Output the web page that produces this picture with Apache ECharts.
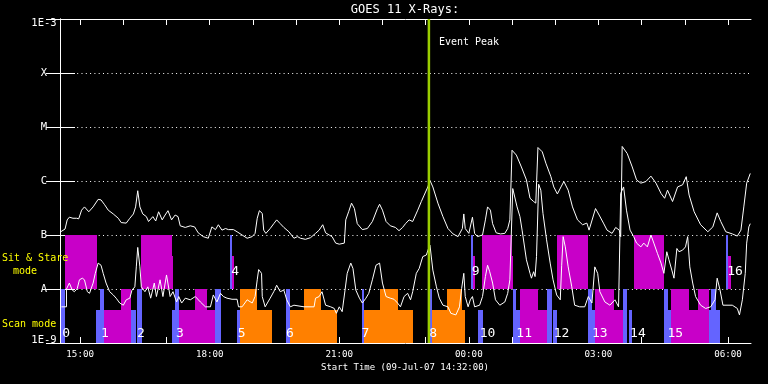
<!DOCTYPE html>
<html><head><meta charset="utf-8">
<script src="https://cdn.jsdelivr.net/npm/echarts@6/dist/echarts.min.js"></script>
<style>html,body{margin:0;padding:0;background:#000}#c{width:768px;height:384px}</style>
</head><body><div id="c"></div>
<script>
// ---- data ----
const START = '14:32';
const SPAN_MIN = 960;                       // minutes shown after START
const titleText = 'GOES 11 X-Rays:';
const xTitleText = 'Start Time (09-Jul-07 14:32:00)';
const xTickTimes = ['15:00','16:00','17:00','18:00','19:00','20:00','21:00','22:00','23:00','00:00','01:00','02:00','03:00','04:00','05:00','06:00'];
const xLabelTimes = ['15:00','18:00','21:00','00:00','03:00','06:00'];
const yTickExponents = [-9,-8,-7,-6,-5,-4,-3];
const yTickLabels = ['1E-9','A','B','C','M','X','1E-3'];
const eventPeakMin = 512.5;                  // minutes after START
const eventPeakLabel = 'Event Peak';

// [minutes after START, log10 flux]
const longChannel = [
[1,-6.94],[7,-6.89],[10,-6.72],[13,-6.67],[18,-6.69],[23,-6.69],[26,-6.70],[30,-6.54],[34,-6.48],[40,-6.57],[46,-6.48],[53,-6.34],[57,-6.35],[62,-6.44],[67,-6.54],[74,-6.61],[81,-6.69],[85,-6.77],[92,-6.78],[97,-6.69],[102,-6.61],[105,-6.48],[108,-6.18],[111,-6.48],[115,-6.61],[120,-6.66],[123,-6.75],[129,-6.66],[133,-6.74],[137,-6.57],[142,-6.72],[146,-6.63],[150,-6.55],[155,-6.72],[160,-6.63],[164,-6.66],[167,-6.83],[174,-6.86],[181,-6.83],[187,-6.85],[192,-6.96],[199,-7.03],[206,-7.06],[211,-6.85],[216,-6.90],[220,-6.81],[225,-6.91],[230,-6.88],[234,-6.90],[241,-6.90],[246,-6.94],[253,-7.00],[260,-7.06],[267,-7.03],[271,-6.97],[274,-6.69],[277,-6.55],[281,-6.60],[283,-6.91],[286,-6.97],[292,-6.88],[297,-6.79],[301,-6.72],[306,-6.79],[311,-6.86],[318,-6.94],[325,-7.06],[330,-7.03],[334,-7.06],[341,-7.08],[348,-7.05],[355,-6.97],[360,-6.91],[365,-6.81],[369,-6.96],[374,-7.00],[378,-7.03],[383,-7.15],[388,-7.17],[395,-7.15],[397,-6.72],[401,-6.57],[405,-6.41],[409,-6.51],[413,-6.79],[420,-6.90],[427,-6.88],[434,-6.75],[441,-6.51],[444,-6.43],[448,-6.54],[453,-6.75],[459,-6.83],[466,-6.86],[471,-6.92],[476,-6.86],[480,-6.79],[485,-6.72],[490,-6.75],[492,-6.69],[497,-6.54],[502,-6.38],[506,-6.26],[511,-6.11],[514,-5.99],[518,-6.11],[525,-6.41],[532,-6.66],[539,-6.88],[546,-6.98],[553,-7.03],[559,-6.88],[561,-6.61],[563,-6.88],[568,-6.97],[573,-6.67],[576,-6.97],[580,-7.03],[587,-7.00],[591,-6.72],[594,-6.48],[598,-6.54],[601,-6.79],[606,-6.96],[612,-6.98],[618,-6.97],[622,-6.88],[625,-6.72],[628,-5.43],[634,-5.52],[641,-5.74],[648,-5.98],[653,-6.32],[658,-6.38],[661,-6.41],[664,-5.38],[670,-5.46],[675,-5.67],[682,-5.92],[686,-6.11],[691,-6.24],[696,-6.11],[700,-6.01],[706,-6.17],[712,-6.48],[719,-6.72],[726,-6.81],[732,-6.78],[735,-6.91],[744,-6.51],[749,-6.63],[755,-6.78],[760,-6.91],[767,-6.97],[772,-6.86],[777,-6.91],[779,-7.03],[781,-5.36],[788,-5.49],[795,-5.74],[801,-5.98],[807,-6.04],[814,-6.01],[821,-5.91],[828,-6.04],[835,-6.23],[840,-6.32],[844,-6.17],[851,-6.38],[858,-6.11],[865,-6.07],[870,-5.92],[874,-6.26],[881,-6.57],[890,-6.81],[900,-6.94],[907,-6.85],[913,-6.59],[918,-6.75],[925,-6.94],[934,-6.98],[941,-7.02],[946,-6.91],[950,-6.48],[954,-6.04],[959,-5.86]
];
const shortChannel = [
[2,-8.33],[9,-8.33],[9,-8.00],[13,-7.89],[17,-8.02],[20,-8.05],[24,-7.99],[27,-7.83],[31,-7.80],[34,-7.83],[38,-8.05],[41,-8.08],[46,-7.89],[49,-7.71],[53,-7.52],[57,-7.56],[60,-7.71],[64,-7.89],[69,-8.05],[74,-8.11],[78,-8.17],[83,-8.26],[88,-8.30],[92,-8.20],[97,-8.17],[100,-8.02],[104,-7.96],[106,-7.59],[108,-7.23],[111,-7.59],[113,-7.96],[118,-8.05],[122,-7.96],[126,-8.17],[131,-7.89],[134,-8.14],[139,-7.83],[143,-8.14],[148,-7.74],[153,-8.14],[157,-8.05],[162,-8.24],[165,-8.14],[169,-8.26],[174,-8.17],[181,-8.20],[188,-8.14],[195,-8.24],[202,-8.33],[209,-8.33],[213,-8.11],[218,-8.24],[223,-8.08],[227,-8.14],[232,-8.17],[239,-8.19],[246,-8.19],[248,-8.33],[253,-8.33],[260,-8.20],[267,-8.26],[271,-8.14],[274,-7.83],[276,-7.64],[280,-7.71],[281,-8.14],[285,-8.33],[292,-8.17],[297,-8.05],[301,-7.93],[306,-8.05],[311,-8.02],[315,-8.20],[320,-8.33],[325,-8.30],[339,-8.33],[353,-8.33],[355,-8.17],[360,-8.14],[364,-8.05],[369,-8.30],[376,-8.33],[381,-8.36],[384,-8.45],[388,-8.33],[392,-8.42],[396,-8.02],[399,-7.71],[404,-7.52],[407,-7.62],[411,-8.02],[416,-8.17],[420,-8.26],[425,-8.17],[429,-8.08],[434,-7.83],[439,-7.56],[444,-7.52],[448,-7.89],[453,-8.14],[459,-8.17],[464,-8.19],[469,-8.26],[473,-8.33],[478,-8.14],[483,-8.08],[487,-8.20],[490,-8.05],[495,-7.71],[499,-7.62],[504,-7.40],[509,-7.37],[512,-7.25],[514,-7.19],[518,-7.65],[523,-7.96],[527,-8.17],[532,-8.30],[539,-8.33],[543,-8.45],[550,-8.48],[555,-8.33],[558,-7.99],[561,-7.71],[563,-8.14],[567,-8.33],[570,-8.20],[573,-8.14],[576,-8.33],[583,-8.30],[587,-8.14],[591,-7.77],[594,-7.56],[597,-7.68],[601,-7.89],[605,-8.20],[611,-8.30],[618,-8.24],[622,-8.08],[625,-7.83],[629,-6.14],[635,-6.48],[639,-6.66],[642,-6.91],[648,-7.46],[653,-7.71],[655,-7.80],[658,-7.68],[660,-7.77],[662,-7.40],[665,-6.06],[668,-6.17],[671,-6.60],[676,-7.09],[681,-7.52],[685,-7.83],[690,-8.11],[695,-8.20],[697,-7.56],[699,-7.03],[702,-7.22],[706,-7.59],[711,-7.96],[715,-8.30],[722,-8.33],[729,-8.33],[734,-8.14],[739,-8.26],[743,-7.59],[747,-7.71],[750,-8.05],[757,-8.24],[764,-8.30],[771,-8.20],[776,-8.33],[779,-6.23],[783,-6.11],[787,-6.54],[792,-6.91],[797,-7.03],[801,-7.15],[807,-7.22],[811,-7.15],[816,-7.22],[821,-7.00],[825,-7.15],[830,-7.34],[835,-7.52],[839,-7.71],[843,-7.31],[846,-7.46],[850,-7.65],[853,-7.80],[857,-7.25],[860,-7.31],[865,-7.28],[869,-7.22],[872,-7.03],[875,-7.59],[879,-7.89],[883,-8.14],[890,-8.30],[897,-8.36],[904,-8.33],[910,-8.20],[913,-7.80],[917,-8.02],[921,-8.30],[934,-8.30],[941,-8.36],[944,-8.48],[948,-8.20],[952,-7.71],[954,-7.15],[957,-6.85],[959,-6.79]
];

// observing blocks: [start min, end min, level F=full/P=partial, colour key]
const sitStareBlocks = [
[7,51,'F','m'],[112,156,'F','m'],[156,157,'P','m'],[236,238.5,'F','b'],[238.5,242,'P','m'],
[571,574,'F','b'],[574,577,'P','m'],[586,628,'F','m'],[628,630,'P','m'],[690,734,'F','m'],
[797,839,'F','m'],[925,928,'F','b'],[928,932,'P','m']
];
const scanBlocks = [
[1,7,'F','b'],[50,56,'P','b'],[56,61,'F','b'],[61,85,'P','m'],[85,99,'F','m'],[99,106,'P','b'],[107,114,'F','b'],
[156,160,'P','b'],[160,165,'F','b'],[165,188,'P','m'],[188,204,'F','m'],[204,216,'P','m'],[216,224,'F','b'],
[246,250,'P','b'],[250,274,'F','o'],[274,295,'P','o'],
[314,319,'F','b'],[319,339,'P','o'],[339,363,'F','o'],[363,385,'P','o'],
[419,423,'F','b'],[423,445,'P','o'],[445,469,'F','o'],[469,491,'P','o'],
[513,517,'F','b'],[517,538,'P','o'],[538,559,'F','o'],[559,562,'P','o'],
[581,587,'P','b'],
[630,634,'F','b'],[634,639,'P','b'],[639,664,'F','m'],[664,676,'P','m'],[676,683,'F','b'],[685,691,'P','b'],
[733,739,'F','b'],[739,743,'P','b'],[743,769,'F','m'],[769,782,'P','m'],[782,788,'F','b'],[790,795,'P','b'],
[839,844,'F','b'],[844,849,'P','b'],[849,874,'F','m'],[874,887,'P','m'],[887,901,'F','m'],
[901,905,'P','b'],[905,911,'F','b'],[911,917,'P','b']
];
const segmentNames  = ['0','1','2','3','4','5','6','7','8','9','10','11','12','13','14','15','16'];
const segmentStarts = [3,57,107,161,238,247,314,419,513,572,583,634,686,739,792,844,927];
const segmentModes  = ['scan','scan','scan','scan','ss','scan','scan','scan','scan','ss','scan','scan','scan','scan','scan','scan','ss'];

// ---- helpers / styling ----
const FONT = '"DejaVu Sans Mono", monospace';
const COLORS = { b:'#6464ff', m:'#c800c8', o:'#ff8000' };
const BAND = { scan:{lo:1e-9, full:1e-8, part:4.07e-9, label:1.5e-9}, ss:{lo:1e-8, full:1e-7, part:4.07e-8, label:2.06e-8} };
const startMin = (() => { const [h,m] = START.split(':').map(Number); return h*60+m; })();
const toOffset = t => { const [h,m] = t.split(':').map(Number); return ((h*60+m) - startMin + 1440) % 1440; };
const tickOffsets = xTickTimes.map(toOffset);
const labelOffsets = xLabelTimes.map(toOffset);

const blockItems = (list, band) => list.map(([s,e,lvl,c]) => ({
  value:[s, e, BAND[band].lo, lvl === 'F' ? BAND[band].full : BAND[band].part],
  itemStyle:{color:COLORS[c]}
}));
const toFlux = arr => arr.map(([t,v]) => [t, Math.pow(10, v)]);

const chart = echarts.init(document.getElementById('c'), null, {renderer:'canvas'});
const xBase = {
  type:'value', min:0, max:SPAN_MIN,
  axisLine:{show:true, onZero:false, lineStyle:{color:'#fff', width:1}},
  splitLine:{show:false}
};
const yBase = {
  type:'log', logBase:10, min:1e-9, max:1e-3, splitNumber:6,
  axisLine:{show:true, lineStyle:{color:'#fff', width:1}},
  axisTick:{show:true, inside:true, length:15, lineStyle:{color:'#fff', width:1}}
};
chart.setOption({
  backgroundColor:'#000',
  animation:false,
  grid:{left:60, right:17, top:19, bottom:41, containLabel:false, outerBoundsMode:'none'},
  xAxis:[
    Object.assign({}, xBase, {
      position:'bottom',
      axisTick:{show:true, inside:true, length:6, customValues:tickOffsets, lineStyle:{color:'#fff'}},
      axisLabel:{show:true, customValues:labelOffsets, color:'#fff', fontFamily:FONT, fontSize:9.2, margin:7,
        formatter: v => { const i = labelOffsets.indexOf(Math.round(v)); return i >= 0 ? xLabelTimes[i] : ''; }}
    }),
    Object.assign({}, xBase, {
      position:'top',
      axisTick:{show:true, inside:true, length:6, customValues:tickOffsets, lineStyle:{color:'#fff'}},
      axisLabel:{show:false}
    })
  ],
  yAxis:[
    Object.assign({}, yBase, {
      position:'left',
      axisLabel:{show:true, color:'#fff', fontFamily:FONT, fontSize:10.5, align:'center', margin:16,
        formatter: v => {
          const e = Math.round(Math.log10(v));
          const i = yTickExponents.indexOf(e);
          if (i < 0) return '';
          if (i === yTickExponents.length - 1) return '{top|' + yTickLabels[i] + '}';
          if (i === 0) return '{bot|' + yTickLabels[i] + '}';
          return yTickLabels[i];
        },
        rich:{ top:{padding:[8,0,0,0], color:'#fff', fontFamily:FONT, fontSize:10.5},
               bot:{padding:[0,0,6,0], color:'#fff', fontFamily:FONT, fontSize:10.5} }},
      splitLine:{show:true, lineStyle:{color:'#fff', width:1, type:[1,3.3]}}
    }),
    Object.assign({}, yBase, {
      position:'right', axisTick:{show:true, inside:true, length:14, lineStyle:{color:'#fff'}},
      axisLabel:{show:false}, splitLine:{show:false}
    })
  ],
  graphic:[
    {type:'text', z:100, x:405, y:10, style:{text:titleText, fill:'#fff', font:'12px ' + FONT, align:'center', verticalAlign:'middle'}},
    {type:'text', z:100, x:405, y:368, style:{text:xTitleText, fill:'#fff', font:'9px ' + FONT, align:'center', verticalAlign:'middle'}},
    {type:'text', z:100, x:2, y:258, style:{text:'Sit & Stare', fill:'#ffff00', font:'10px ' + FONT, align:'left', verticalAlign:'middle'}},
    {type:'text', z:100, x:13, y:271, style:{text:'mode', fill:'#ffff00', font:'10px ' + FONT, align:'left', verticalAlign:'middle'}},
    {type:'text', z:100, x:2, y:324, style:{text:'Scan mode', fill:'#ffff00', font:'10px ' + FONT, align:'left', verticalAlign:'middle'}}
  ],
  series:[
    {
      type:'custom', silent:true, z:1,
      dimensions:['s','e','lo','hi'], encode:{x:[0,1], y:[2,3]},
      data: blockItems(scanBlocks,'scan').concat(blockItems(sitStareBlocks,'ss')),
      renderItem:(params, api) => {
        const p0 = api.coord([api.value(0), api.value(3)]);
        const p1 = api.coord([api.value(1), api.value(2)]);
        const x0 = Math.round(p0[0]), x1 = Math.round(p1[0]);
        const y0 = Math.round(p0[1]), y1 = Math.round(p1[1]);
        return {type:'rect', shape:{x:x0, y:y0, width:Math.max(1, x1 - x0), height:y1 - y0},
                style:{fill:api.visual('color')}};
      }
    },
    {
      type:'custom', silent:true, z:2,
      encode:{x:0, y:1},
      data: segmentStarts.map((s,i) => [s, BAND[segmentModes[i]].label, i]),
      renderItem:(params, api) => {
        const p = api.coord([api.value(0), api.value(1)]);
        return {type:'text', x:p[0], y:p[1],
                style:{text:segmentNames[api.value(2)], fill:'#fff', font:'13px ' + FONT, align:'left', verticalAlign:'middle'}};
      }
    },
    {
      type:'line', name:'long', silent:true, z:3, showSymbol:false, symbol:'none',
      lineStyle:{color:'#fff', width:1}, data: toFlux(longChannel)
    },
    {
      type:'line', name:'short', silent:true, z:3, showSymbol:false, symbol:'none',
      lineStyle:{color:'#fff', width:1}, data: toFlux(shortChannel)
    },
    {
      type:'custom', silent:true, z:4,
      encode:{x:0, y:1},
      data:[[eventPeakMin, 1e-6]],
      renderItem:(params, api) => {
        const top = api.coord([api.value(0), 1e-3]);
        const bot = api.coord([api.value(0), 1e-9]);
        return {type:'group', children:[
          {type:'line', shape:{x1:top[0], y1:top[1], x2:bot[0], y2:bot[1]}, style:{stroke:'#9acd00', lineWidth:2.5}},
          {type:'text', x:top[0] + 10, y:top[1] + 23.5,
           style:{text:eventPeakLabel, fill:'#fff', font:'10px ' + FONT, align:'left', verticalAlign:'middle'}}
        ]};
      }
    }
  ]
});
</script>
</body></html>
